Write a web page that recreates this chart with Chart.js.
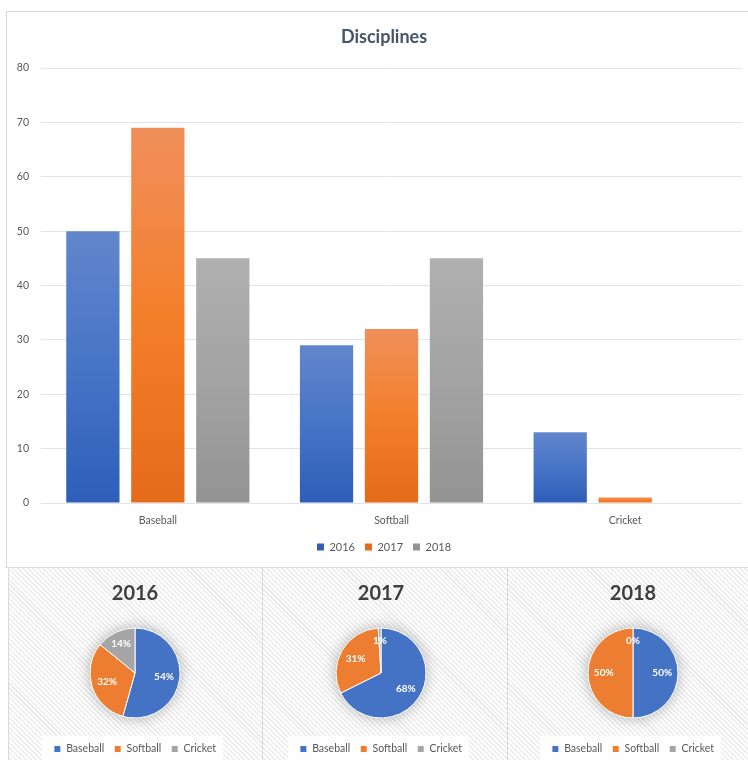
<!DOCTYPE html>
<html>
<head>
<meta charset="utf-8">
<script src="https://cdn.jsdelivr.net/npm/chart.js@4.4.0/dist/chart.umd.min.js"></script>
<style>
    html, body { margin: 0; padding: 0; width: 748px; height: 760px; overflow: hidden; background: #fff; }
    .box { position: absolute; box-sizing: border-box; border: 1px solid #d9d9d9; }
    #topBox { left: 6px; top: 11px; width: 760px; height: 557px; background: #fff; }
    .panel { top: 567px; height: 210px; background: repeating-linear-gradient(45deg, #ffffff 0px, #ffffff 2px, #ececec 2px, #ececec 3.5px); }
    #panel1 { left: 8px; width: 255px; }
    #panel2 { left: 262px; width: 246px; }
    #panel3 { left: 507px; width: 260px; }
    canvas { position: absolute; }
</style>
</head>
<body>
<div class="box" id="topBox"></div>
<div class="box panel" id="panel1"></div>
<div class="box panel" id="panel2"></div>
<div class="box panel" id="panel3"></div>
<canvas id="barChart" width="756" height="566" style="left:6px; top:0px;"></canvas>
<canvas id="pie2016" width="246" height="200" style="left:12px; top:568px;"></canvas>
<canvas id="pie2017" width="246" height="200" style="left:258px; top:568px;"></canvas>
<canvas id="pie2018" width="246" height="200" style="left:510px; top:568px;"></canvas>
<script>
// data
const categories = ['Baseball', 'Softball', 'Cricket'];
const years = ['2016', '2017', '2018'];
const values2016 = [50, 29, 13];
const values2017 = [69, 32, 1];
const values2018 = [45, 45, 0];
const yMin = 0;
const yMax = 80;
const yStep = 10;

const FONT = 'Lato, "Open Sans", sans-serif';
const TEXT = '#595959';
const solid = ['#4472c4', '#ed7d31', '#a5a5a5'];
const gradStops = [
    ['#6286cc', '#4674c6', '#2e5eb8'],
    ['#f08f5b', '#f47f2b', '#e46b19'],
    ['#b0b0b0', '#a3a3a3', '#939393']
];

// each bar gets its own top-to-bottom gradient
function barFill(i) {
    return (context) => {
        const chart = context.chart;
        if (!chart.chartArea || context.type !== 'data') return solid[i];
        const y = chart.scales.y;
        const top = y.getPixelForValue(context.raw);
        const bottom = y.getPixelForValue(0);
        if (!(bottom > top)) return solid[i];
        const g = chart.ctx.createLinearGradient(0, top, 0, bottom);
        g.addColorStop(0, gradStops[i][0]);
        g.addColorStop(0.5, gradStops[i][1]);
        g.addColorStop(1, gradStops[i][2]);
        return g;
    };
}

const seriesValues = [values2016, values2017, values2018];

new Chart(document.getElementById('barChart'), {
    type: 'bar',
    data: {
        labels: categories,
        datasets: years.map((year, i) => ({
            label: year,
            data: seriesValues[i],
            backgroundColor: barFill(i),
            borderWidth: 0,
            barPercentage: 0.82,
            categoryPercentage: 0.834
        }))
    },
    options: {
        responsive: false,
        animation: false,
        layout: { padding: { left: 0, right: 0, top: 0, bottom: 3.5 } },
        plugins: {
            title: {
                display: true,
                text: 'Disciplines',
                color: '#44546a',
                font: { family: FONT, size: 18, weight: 'bold' },
                padding: { top: 26.2, bottom: 20.2 }
            },
            legend: {
                position: 'bottom',
                labels: {
                    boxWidth: 7,
                    boxHeight: 7,
                    padding: 10,
                    color: TEXT,
                    font: { family: FONT, size: 11 }
                }
            },
            tooltip: { enabled: false }
        },
        scales: {
            x: {
                grid: { display: false },
                border: { display: false },
                ticks: { color: TEXT, font: { family: FONT, size: 10.5 }, padding: 3 },
                afterFit: (s) => { s.height = 28.5; }
            },
            y: {
                min: yMin,
                max: yMax,
                ticks: { stepSize: yStep, color: TEXT, font: { family: FONT, size: 10.5 }, padding: 12 },
                grid: { color: '#e0e4ea', lineWidth: 1, drawTicks: false },
                border: { display: false },
                afterFit: (s) => { s.width = 35; }
            },
            // empty axis that only keeps a margin on the right
            yRight: {
                position: 'right',
                display: true,
                ticks: { display: false },
                grid: { display: false },
                border: { display: false },
                afterFit: (s) => { s.width = 20; }
            }
        }
    }
});

// white strip behind the legend and a soft shadow behind the pie
const pieShadow = {
    id: 'pieShadow',
    beforeDraw(chart) {
        const hb = chart.legend && chart.legend.legendHitBoxes;
        if (!hb || !hb.length) return;
        const left = Math.min(...hb.map(b => b.left)) - 12;
        const right = Math.max(...hb.map(b => b.left + b.width)) + 7;
        const ctx = chart.ctx;
        ctx.save();
        ctx.fillStyle = 'rgba(255,255,255,0.9)';
        ctx.fillRect(left, chart.legend.top + 2, right - left, chart.height);
        ctx.restore();
    },
    beforeDatasetsDraw(chart) {
        const arc = chart.getDatasetMeta(0).data[0];
        if (!arc) return;
        const ctx = chart.ctx;
        ctx.save();
        ctx.shadowColor = 'rgba(0,0,0,0.35)';
        ctx.shadowBlur = 16;
        ctx.fillStyle = '#ffffff';
        ctx.beginPath();
        ctx.arc(arc.x, arc.y, arc.outerRadius - 1, 0, Math.PI * 2);
        ctx.fill();
        ctx.restore();
    }
};

// percentage labels inside the slices
const pctLabels = {
    id: 'pctLabels',
    afterDatasetsDraw(chart) {
        const meta = chart.getDatasetMeta(0);
        const data = chart.data.datasets[0].data;
        const total = data.reduce((a, b) => a + b, 0);
        const ctx = chart.ctx;
        ctx.save();
        ctx.fillStyle = '#ffffff';
        ctx.font = 'bold 10px ' + FONT;
        ctx.textAlign = 'center';
        ctx.textBaseline = 'middle';
        meta.data.forEach((arc, i) => {
            const mid = (arc.startAngle + arc.endAngle) / 2;
            const r = arc.outerRadius * (data[i] / total < 0.2 ? 0.72 : 0.65);
            const pct = Math.round(data[i] / total * 100) + '%';
            ctx.fillText(pct, arc.x + Math.cos(mid) * r, arc.y + Math.sin(mid) * r);
        });
        ctx.restore();
    }
};

function createPie(id, year, values) {
    new Chart(document.getElementById(id), {
        type: 'pie',
        data: {
            labels: categories,
            datasets: [{
                data: values,
                backgroundColor: solid,
                borderColor: '#ffffff',
                borderWidth: 1,
                radius: 45
            }]
        },
        options: {
            responsive: false,
            animation: false,
            layout: { padding: { bottom: 3.75 } },
            plugins: {
                title: {
                    display: true,
                    text: year,
                    color: '#404040',
                    font: { family: FONT, size: 20, weight: 'bold' },
                    padding: { top: 14, bottom: 6.25 }
                },
                legend: {
                    position: 'bottom',
                    labels: {
                        boxWidth: 7,
                        boxHeight: 7,
                        padding: 10,
                        color: TEXT,
                        font: { family: FONT, size: 10.5 }
                    }
                },
                tooltip: { enabled: false }
            }
        },
        plugins: [pieShadow, pctLabels]
    });
}

createPie('pie2016', years[0], categories.map((c, i) => values2016[i]));
createPie('pie2017', years[1], categories.map((c, i) => values2017[i]));
createPie('pie2018', years[2], categories.map((c, i) => values2018[i]));
</script>
</body>
</html>
